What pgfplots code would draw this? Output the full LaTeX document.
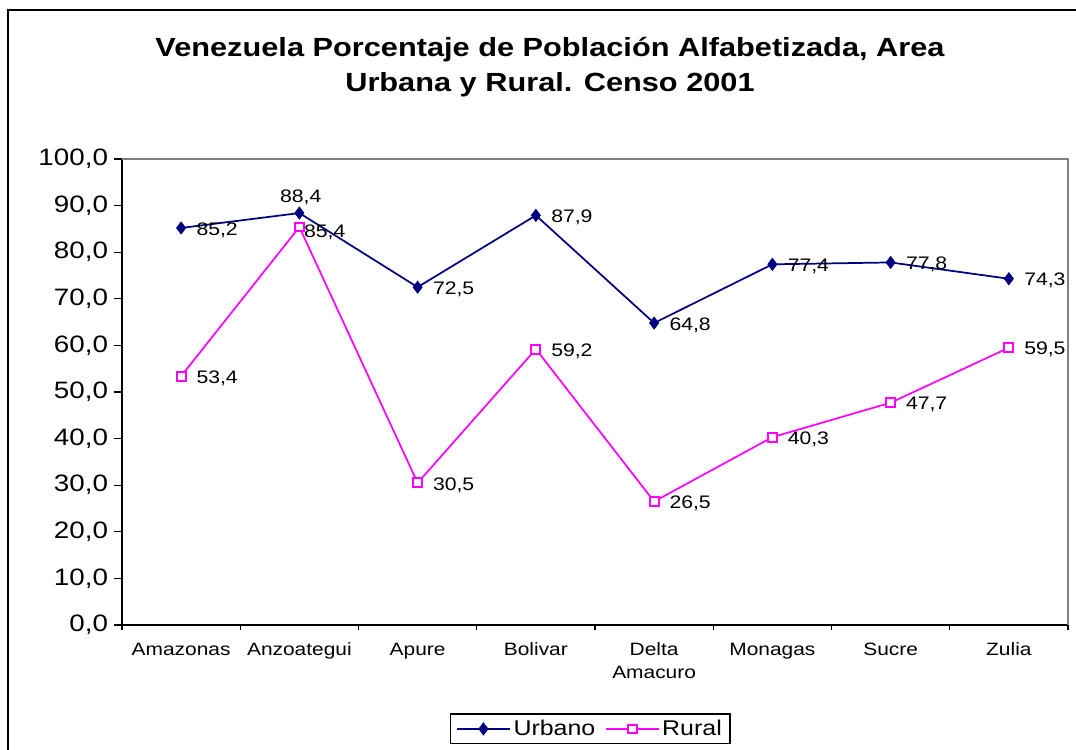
\documentclass[border=0pt]{standalone}
\usepackage{fontspec}
\setmainfont{Liberation Sans}[FakeStretch=1.17]
\usepackage{pgfplots}
\pgfplotsset{compat=1.18}
\pgfkeys{/pgf/number format/assume math mode=true}
\definecolor{urb}{RGB}{0,0,128}
\definecolor{rur}{RGB}{255,0,255}
\pgfplotstableread{
x y
0 85.2
1 88.4
2 72.5
3 87.9
4 64.8
5 77.4
6 77.8
7 74.3
}\urbano
\pgfplotstableread{
x y
0 53.4
1 85.4
2 30.5
3 59.2
4 26.5
5 40.3
6 47.7
7 59.5
}\rural
\begin{document}
\begin{tikzpicture}
\useasboundingbox (0pt,0pt) rectangle (807pt,562.5pt);
\clip (0pt,0pt) rectangle (807pt,562.5pt);
\draw[line width=1.4pt] (6pt,555pt) rectangle (830pt,-20pt);
\node[font=\bfseries\fontsize{19.7}{26}\selectfont, align=center] at (412.5pt,512pt) {Venezuela Porcentaje de Población Alfabetizada, Area\\Urbana y Rural. Censo 2001};
\begin{axis}[
  at={(91.5pt,93.75pt)}, anchor=south west,
  scale only axis, width=709.5pt, height=349.5pt,
  xmin=-0.5, xmax=7.5, ymin=0, ymax=100,
  ytick={0,10,...,100},
  yticklabel={\pgfmathprintnumber[fixed,fixed zerofill,precision=1,use comma]{\tick}},
  yticklabel style={font=\fontsize{17.8}{20}\selectfont, xshift=-1pt},
  xtick={0,...,7},
  xticklabels={Amazonas,Anzoategui,Apure,Bolivar,{Delta\\Amacuro},Monagas,Sucre,Zulia},
  xticklabel style={align=center, font=\fontsize{13.4}{17}\selectfont, yshift=-4pt},
  major x tick style={draw=none},
  minor xtick={-0.5,0.5,...,7.5},
  axis x line*=bottom, axis y line*=left,
  axis line style={line width=1.1pt, -},
  tick align=outside,
  tick style={black, line width=0.9pt},
  major tick length=6pt, minor tick length=4pt,
  clip=false,
  every node near coord/.append style={font=\fontsize{13.6}{15}\selectfont, text=black},
  legend columns=2,
  legend style={at={(0.495,-0.223)}, anchor=center, draw=black, line width=1.1pt,
    font=\fontsize{16}{19}\selectfont, inner ysep=2.5pt, inner xsep=4pt,
    /tikz/every even column/.append style={column sep=5pt}},
  legend image code/.code={\draw[mark repeat=2,mark phase=2] plot coordinates {(0cm,0cm)(0.7cm,0cm)(1.4cm,0cm)};},
]
\addplot[color=urb, line width=1.3pt, mark=diamond*, mark size=4.6pt, mark options={fill=urb, line width=0.5pt}]
  table {\urbano};
\addlegendentry{Urbano}
\addplot[color=rur, line width=1.3pt, mark=square*, mark size=3.3pt, mark options={fill=white, line width=1.5pt}]
  table {\rural};
\addlegendentry{Rural}
% data labels
\addplot[forget plot, draw=none, nodes near coords={\pgfmathprintnumber[fixed,fixed zerofill,precision=1,use comma]{\pgfplotspointmeta}},
  every node near coord/.append style={anchor=west, xshift=8pt, yshift=-1.5pt}]
  table[skip coords between index={1}{2}] {\urbano};
\addplot[forget plot, draw=none, nodes near coords={\pgfmathprintnumber[fixed,fixed zerofill,precision=1,use comma]{\pgfplotspointmeta}},
  every node near coord/.append style={anchor=south, xshift=1pt, yshift=3pt}]
  table[skip coords between index={0}{1}, skip coords between index={2}{8}] {\urbano};
\addplot[forget plot, draw=none, nodes near coords={\pgfmathprintnumber[fixed,fixed zerofill,precision=1,use comma]{\pgfplotspointmeta}},
  every node near coord/.append style={anchor=west, xshift=8pt, yshift=-1.5pt}]
  table[skip coords between index={1}{2}] {\rural};
\addplot[forget plot, draw=none, nodes near coords={\pgfmathprintnumber[fixed,fixed zerofill,precision=1,use comma]{\pgfplotspointmeta}},
  every node near coord/.append style={anchor=west, xshift=0pt, yshift=-4pt}]
  table[skip coords between index={0}{1}, skip coords between index={2}{8}] {\rural};
\draw[gray, line width=0.9pt] (rel axis cs:0,1) -- (rel axis cs:1,1) -- (rel axis cs:1,0);
\end{axis}
\end{tikzpicture}
\end{document}
